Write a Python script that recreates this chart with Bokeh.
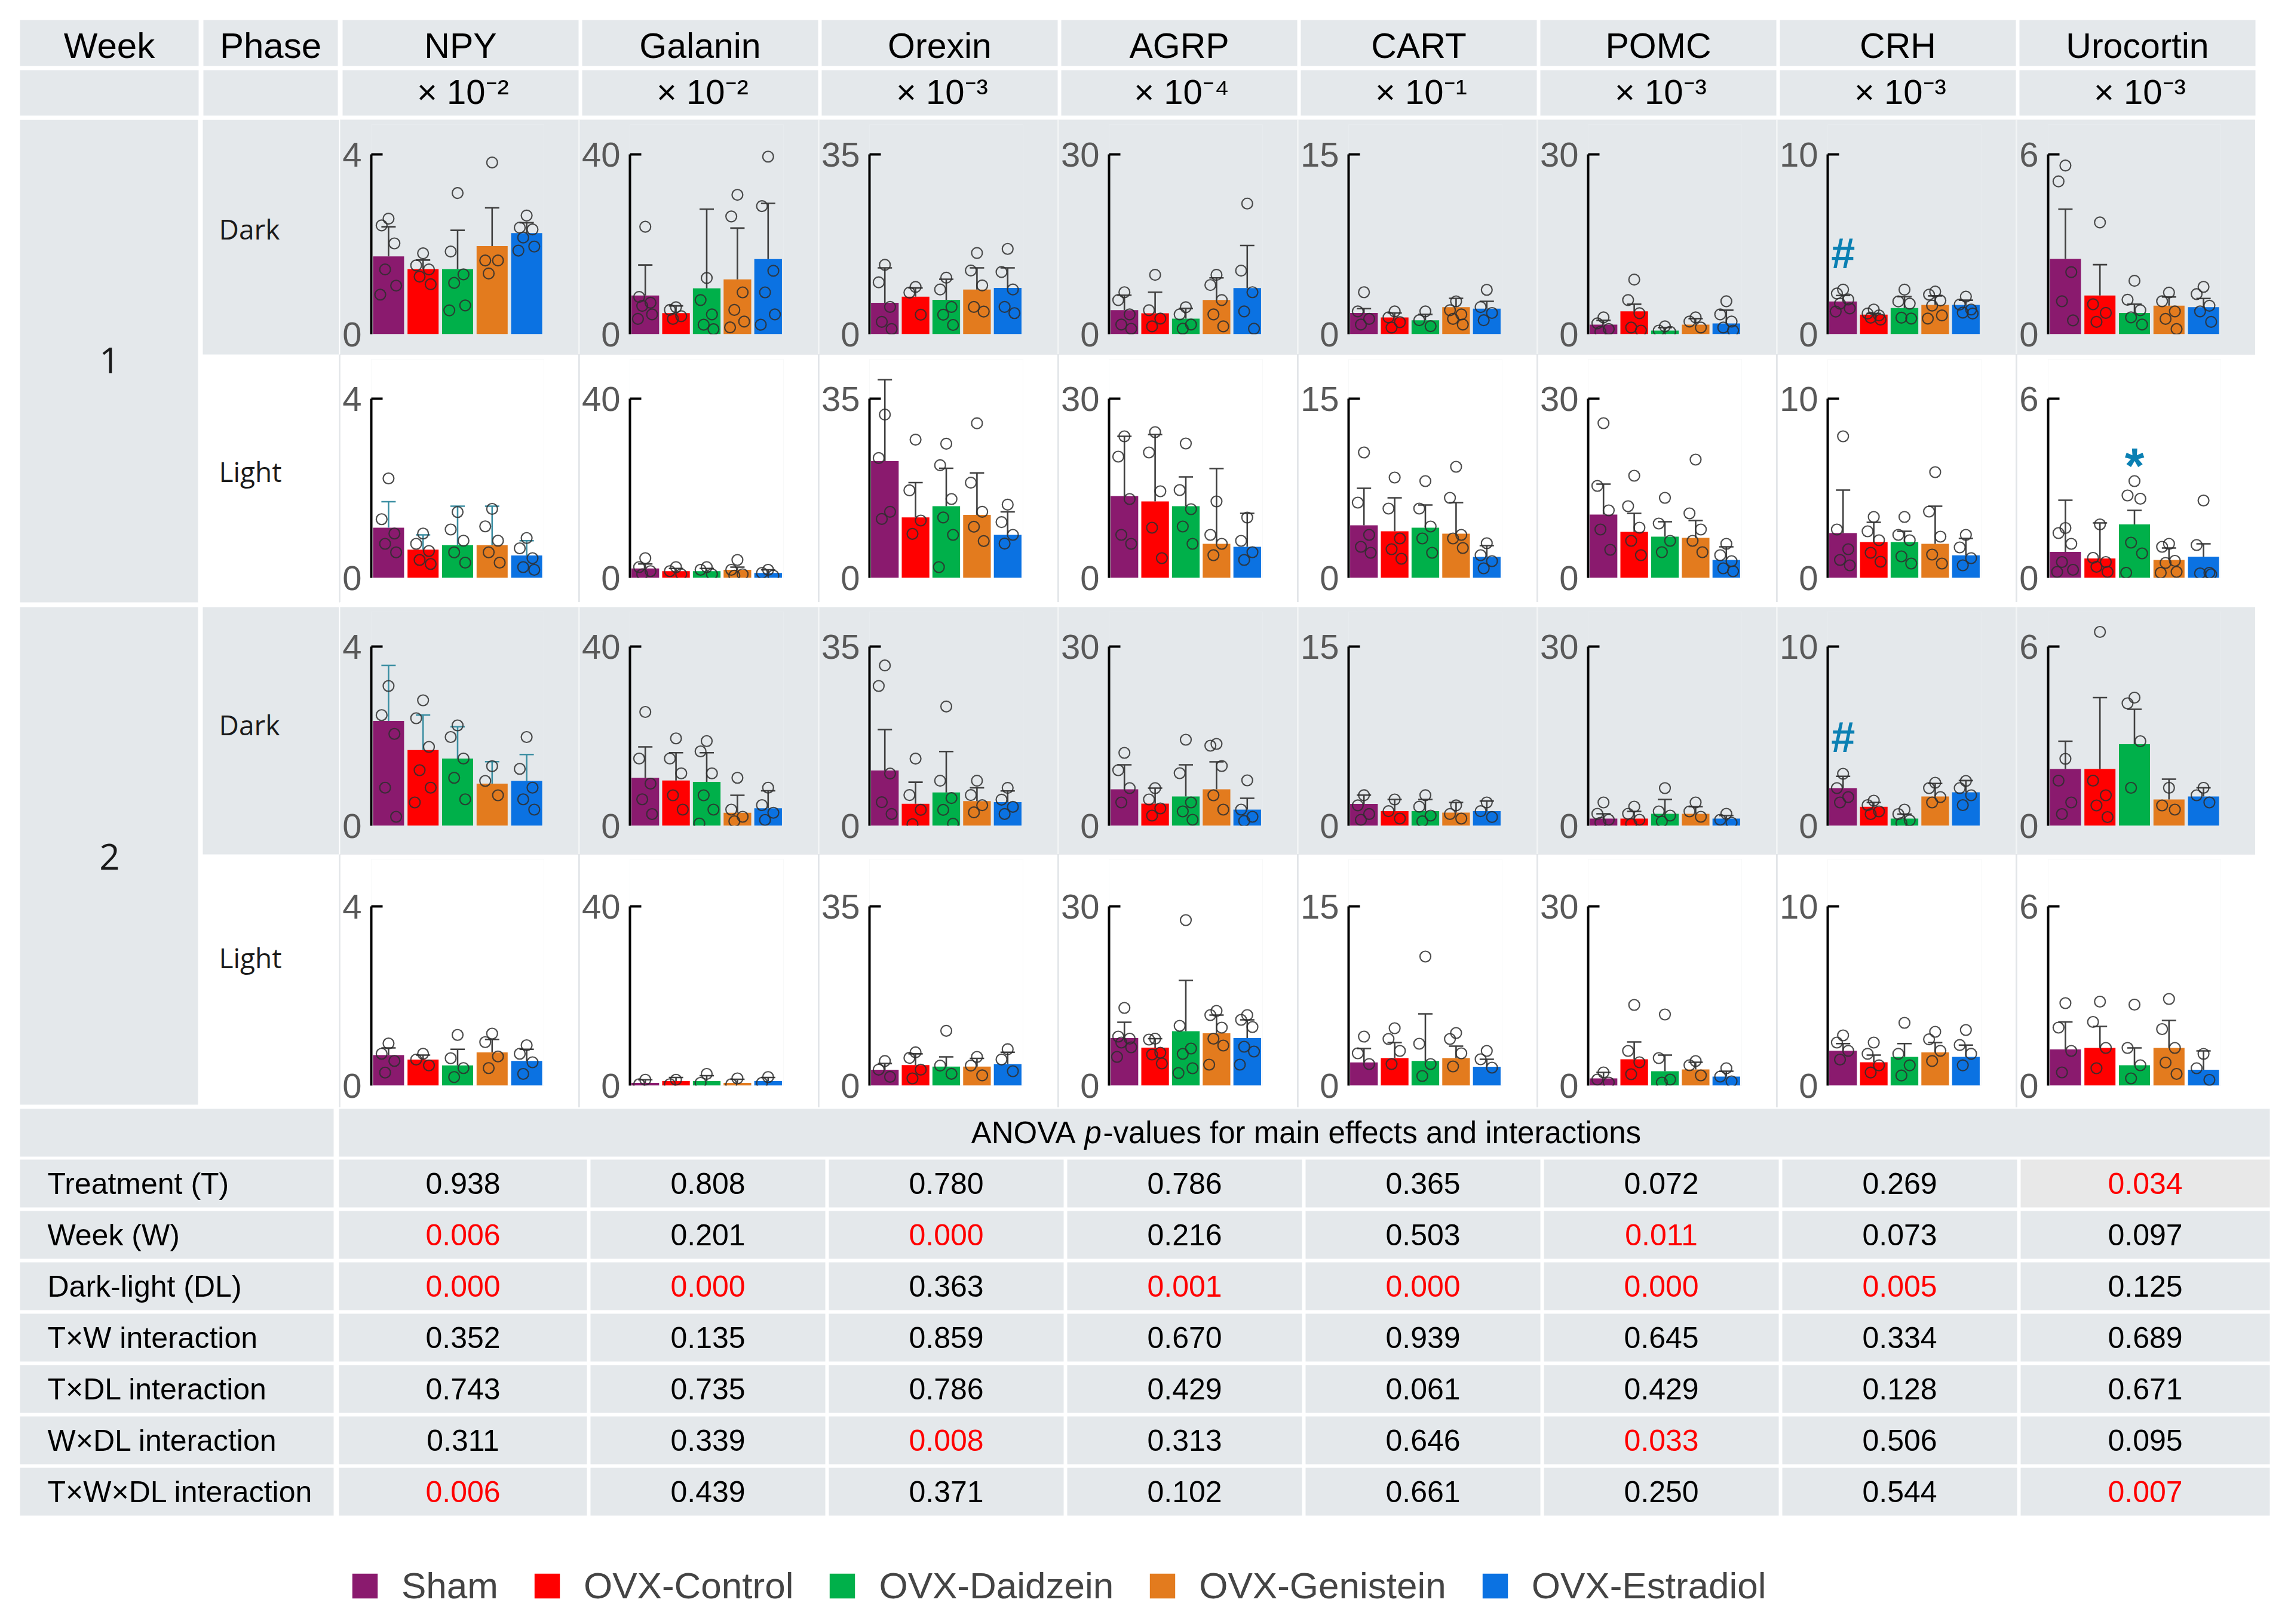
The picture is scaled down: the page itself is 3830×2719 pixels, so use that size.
from bokeh.plotting import figure
from bokeh.models import (Range1d, LinearAxis, FixedTicker, ColumnDataSource,
                          Legend, LegendItem, Spacer, Row, Column)
from bokeh.core.properties import value
from bokeh.embed import file_html
from bokeh.resources import INLINE

# ---------------------------------------------------------------- data
GENES = ["NPY", "Galanin", "Orexin", "AGRP", "CART", "POMC", "CRH", "Urocortin"]
EXPONENTS = [-2, -2, -3, -4, -1, -3, -3, -3]
Y_MAX = [4, 40, 35, 30, 15, 30, 10, 6]
GROUPS = ["Sham", "OVX-Control", "OVX-Daidzein", "OVX-Genistein", "OVX-Estradiol"]
COLORS = ["#8A1A6E", "#FF0000", "#00B04A", "#E37B1E", "#0B72E2"]
PANELS = [("1", "Dark"), ("1", "Light"), ("2", "Dark"), ("2", "Light")]

W1_DARK_MEAN = {
    "NPY": [1.73, 1.45, 1.45, 1.96, 2.25],
    "Galanin": [8.6, 4.7, 10.2, 12.2, 16.7],
    "Orexin": [6.1, 7.3, 6.7, 8.7, 9.0],
    "AGRP": [4.0, 3.5, 2.6, 5.7, 7.7],
    "CART": [1.77, 1.4, 1.16, 2.26, 2.13],
    "POMC": [1.6, 3.8, 0.6, 1.6, 1.8],
    "CRH": [1.82, 1.09, 1.45, 1.63, 1.63],
    "Urocortin": [2.51, 1.29, 0.71, 0.95, 0.9],
}
W1_DARK_UPPER = {
    "NPY": [2.39, 1.65, 2.31, 2.81, 2.48],
    "Galanin": [15.4, 6.3, 27.8, 23.6, 29.1],
    "Orexin": [12.9, 9.0, 10.7, 12.9, 12.9],
    "AGRP": [6.5, 7.0, 4.3, 9.4, 14.8],
    "CART": [2.13, 1.77, 1.65, 2.99, 2.74],
    "POMC": [2.3, 5.0, 1.1, 2.6, 4.0],
    "CRH": [2.15, 1.15, 2.09, 2.13, 1.89],
    "Urocortin": [4.17, 2.32, 1.0, 1.24, 1.19],
}
W1_DARK_POINTS = {
    "NPY": [[2.57, 2.42, 2.02, 1.44, 1.08, 0.88], [1.80, 1.53, 1.44, 1.28, 1.11],
            [3.14, 1.84, 1.33, 1.14, 0.64, 0.53], [3.82, 1.64, 1.64, 1.35],
            [2.64, 2.37, 2.33, 2.15, 1.95, 1.86]],
    "Galanin": [[23.9, 8.3, 7.0, 6.3, 4.4, 3.4], [6.0, 5.4, 4.0, 3.4], [12.5, 7.6, 4.4, 2.1, 1.1],
                [31.0, 26.2, 9.3, 5.4, 2.8, 1.5], [39.5, 28.5, 14.1, 9.3, 4.4, 2.1]],
    "Orexin": [[13.5, 10.1, 5.3, 2.4, 1.0], [9.2, 8.1, 3.8], [11.0, 8.7, 5.3, 3.8, 1.8],
               [15.8, 12.4, 9.5, 5.3, 4.4], [16.6, 12.1, 8.7, 5.3, 4.1]],
    "AGRP": [[7.0, 5.7, 3.3, 1.6, 0.9], [9.9, 4.0, 2.6, 1.3], [4.5, 3.3, 1.6, 0.9],
             [9.9, 8.2, 5.7, 3.3, 1.3], [21.8, 10.6, 7.0, 3.8, 0.9]],
    "CART": [[3.5, 1.9, 1.28, 0.8], [1.9, 1.4, 1.0, 0.55], [1.9, 1.16, 0.67],
             [2.74, 2.0, 1.65, 1.28, 0.8], [3.7, 2.26, 1.77, 1.16]],
    "POMC": [[2.8, 1.8, 0.85, 0.4], [9.1, 5.7, 3.5, 1.1, 0.6], [1.3, 0.6, 0.4],
             [2.8, 2.1, 1.1], [5.5, 3.3, 2.1, 1.1, 0.6]],
    "CRH": [[2.48, 2.26, 1.93, 1.70, 1.43, 1.26], [1.37, 1.15, 1.04, 0.92, 0.81],
            [2.48, 1.82, 1.70, 0.92, 0.87], [2.37, 2.2, 1.87, 1.59, 1.04, 0.87],
            [2.09, 1.65, 1.37, 1.2, 1.15]],
    "Urocortin": [[5.63, 5.1, 2.07, 1.1, 0.46], [3.73, 1.0, 0.71, 0.41], [1.78, 1.15, 0.8, 0.56, 0.32],
                  [1.39, 1.1, 0.76, 0.51, 0.17], [1.58, 1.34, 0.95, 0.76, 0.41]],
}

W1_LIGHT_MEAN = {
    "NPY": [1.12, 0.63, 0.73, 0.73, 0.5],
    "Galanin": [2.1, 1.5, 1.5, 1.8, 1.1],
    "Orexin": [22.8, 11.8, 14.0, 12.3, 8.4],
    "AGRP": [13.7, 12.8, 12.0, 5.7, 5.2],
    "CART": [4.4, 3.9, 4.2, 3.7, 1.76],
    "POMC": [10.6, 7.7, 6.9, 6.7, 3.0],
    "CRH": [2.5, 2.0, 2.0, 1.9, 1.26],
    "Urocortin": [0.87, 0.65, 1.79, 0.6, 0.71],
}
W1_LIGHT_UPPER = {
    "NPY": [1.70, 0.96, 1.6, 1.6, 0.83],
    "Galanin": [3.1, 2.1, 2.1, 2.4, 1.8],
    "Orexin": [38.7, 18.6, 21.4, 20.5, 12.9],
    "AGRP": [23.7, 24.0, 16.9, 18.3, 10.8],
    "CART": [7.5, 6.7, 6.1, 6.3, 2.7],
    "POMC": [15.7, 10.8, 9.4, 9.6, 5.2],
    "CRH": [4.9, 3.1, 2.6, 4.0, 2.2],
    "Urocortin": [2.6, 1.84, 2.26, 1.0, 1.14],
}
W1_LIGHT_POINTS = {
    "NPY": [[2.22, 1.31, 0.99, 0.76, 0.57], [0.99, 0.76, 0.6, 0.4, 0.31], [1.47, 1.08, 0.83, 0.57, 0.34],
            [1.54, 1.15, 0.83, 0.57, 0.34], [0.89, 0.66, 0.44, 0.24, 0.18]],
    "Galanin": [[4.4, 2.4, 1.5, 0.8], [2.4, 1.5, 0.8], [2.4, 1.8, 0.8], [4.0, 1.8, 0.8, 0.5], [1.8, 1.1, 0.5]],
    "Orexin": [[31.9, 23.4, 12.9, 11.5], [27.0, 17.1, 11.2, 8.6], [26.2, 22.0, 15.4, 11.8, 8.4, 2.1],
               [30.2, 18.6, 12.9, 10.0, 7.2], [14.3, 10.9, 8.4, 6.7]],
    "AGRP": [[23.7, 20.3, 13.2, 7.2, 5.7], [24.4, 21.0, 14.5, 8.4, 3.3], [22.5, 14.7, 11.5, 8.6, 5.7],
             [12.8, 7.2, 5.7, 3.8], [10.1, 6.2, 4.3, 3.0]],
    "CART": [[10.5, 6.3, 3.6, 2.6, 2.1], [8.4, 5.8, 3.3, 2.4, 1.6], [8.1, 5.8, 4.3, 3.3, 2.1],
             [9.3, 6.7, 3.6, 3.3, 2.5], [2.9, 1.9, 1.4, 0.8]],
    "POMC": [[25.9, 15.4, 11.3, 8.1, 4.7], [17.1, 12.0, 8.4, 6.2, 3.8], [13.4, 9.1, 6.2, 4.3],
             [19.8, 10.8, 8.1, 6.2, 4.3], [5.7, 3.8, 2.8, 1.6, 1.1]],
    "CRH": [[7.9, 2.7, 1.6, 1.0, 0.7], [3.4, 2.6, 2.1, 1.4, 0.9], [3.4, 2.4, 2.1, 1.2, 0.8],
            [5.9, 3.7, 2.3, 1.3, 0.8], [2.4, 1.7, 1.1, 0.7]],
    "Urocortin": [[1.67, 1.50, 1.14, 0.53, 0.27, 0.2], [1.79, 0.67, 0.53, 0.37, 0.2],
                  [3.24, 2.76, 2.65, 1.18, 0.82, 0.17], [1.14, 1.04, 0.57, 0.5, 0.2, 0.17],
                  [2.59, 1.1, 0.17, 0.15, 0.12]],
}

W2_DARK_MEAN = {
    "NPY": [2.34, 1.69, 1.5, 0.94, 1.0],
    "Galanin": [10.7, 10.1, 9.8, 2.9, 3.9],
    "Orexin": [10.8, 4.3, 6.5, 4.8, 4.6],
    "AGRP": [6.1, 3.7, 4.9, 6.1, 2.7],
    "CART": [1.83, 1.22, 1.22, 1.1, 1.22],
    "POMC": [1.2, 1.2, 2.0, 2.0, 1.2],
    "CRH": [2.1, 1.06, 0.4, 1.63, 1.87],
    "Urocortin": [1.9, 1.9, 2.73, 0.88, 0.98],
}
W2_DARK_UPPER = {
    "NPY": [3.58, 2.47, 2.21, 1.43, 1.59],
    "Galanin": [17.6, 16.3, 16.3, 6.8, 7.8],
    "Orexin": [18.8, 8.5, 14.5, 7.4, 6.8],
    "AGRP": [10.2, 6.3, 10.2, 10.7, 4.6],
    "CART": [2.56, 2.2, 2.2, 1.95, 2.07],
    "POMC": [2.0, 2.4, 4.4, 3.2, 1.7],
    "CRH": [2.76, 1.3, 0.65, 2.36, 2.52],
    "Urocortin": [2.83, 4.29, 3.9, 1.56, 1.27],
}
W2_DARK_POINTS = {
    "NPY": [[3.12, 2.47, 2.05, 0.85, 0.2], [2.8, 2.4, 1.76, 1.24, 0.85, 0.52], [2.24, 1.98, 1.5, 1.07, 0.59],
            [1.33, 1.0, 0.68], [1.98, 1.27, 0.85, 0.59, 0.36]],
    "Galanin": [[25.4, 15.0, 9.4, 5.9, 2.6], [19.5, 15.0, 11.7, 6.8, 3.6], [18.9, 16.6, 11.7, 6.8, 3.6, 0.5],
                [10.7, 3.6, 2.0, 1.0], [8.5, 4.6, 2.9, 1.3]],
    "Orexin": [[31.3, 27.3, 10.2, 4.6, 2.3], [13.1, 6.0, 3.1, 0.3], [23.3, 8.8, 5.4, 3.1, 0.4],
               [8.8, 6.0, 4.0, 2.6], [7.4, 5.1, 3.7, 2.3]],
    "AGRP": [[12.2, 9.3, 6.3, 3.9], [6.3, 4.4, 2.9, 1.7], [14.4, 8.8, 3.9, 2.4, 1.0],
             [13.7, 13.4, 10.0, 5.1, 2.7], [7.6, 2.7, 1.5, 0.8]],
    "CART": [[2.56, 1.71, 0.98, 0.49], [2.2, 1.22, 0.6], [2.56, 1.59, 0.85, 0.37], [1.71, 0.98, 0.6],
             [1.95, 1.22, 0.73]],
    "POMC": [[3.9, 2.0, 1.0, 0.5], [3.2, 2.0, 1.0, 0.3], [6.3, 2.4, 1.7, 0.7], [3.9, 2.4, 1.5], [2.0, 1.0, 0.5]],
    "CRH": [[2.9, 2.1, 1.6, 1.3], [1.4, 1.15, 0.8, 0.65], [0.9, 0.65, 0.3, 0.15], [2.4, 2.1, 1.6, 1.3],
            [2.5, 2.1, 1.7, 1.15]],
    "Urocortin": [[2.24, 1.51, 0.78, 0.39], [6.49, 1.51, 1.02, 0.68, 0.29], [4.29, 4.1, 2.83, 1.27],
                  [1.27, 0.68, 0.54], [1.27, 1.02, 0.78]],
}

W2_LIGHT_MEAN = {
    "NPY": [0.68, 0.58, 0.45, 0.74, 0.55],
    "Galanin": [0.6, 1.0, 1.0, 0.6, 1.0],
    "Orexin": [3.1, 4.0, 3.7, 3.7, 4.2],
    "AGRP": [7.95, 6.35, 9.09, 8.75, 7.95],
    "CART": [1.94, 2.3, 2.06, 2.3, 1.57],
    "POMC": [1.2, 4.4, 2.4, 2.7, 1.5],
    "CRH": [1.94, 1.3, 1.6, 1.85, 1.6],
    "Urocortin": [1.21, 1.26, 0.68, 1.26, 0.53],
}
W2_LIGHT_UPPER = {
    "NPY": [0.84, 0.68, 0.81, 1.03, 0.81],
    "Galanin": [1.3, 1.8, 2.2, 1.4, 1.8],
    "Orexin": [4.3, 6.2, 5.6, 5.3, 6.5],
    "AGRP": [10.6, 7.85, 17.6, 11.8, 11.0],
    "CART": [3.1, 3.6, 6.0, 3.3, 2.2],
    "POMC": [2.2, 7.3, 5.1, 3.9, 2.4],
    "CRH": [2.34, 1.7, 2.34, 2.4, 2.26],
    "Urocortin": [2.13, 1.98, 1.26, 2.18, 1.16],
}
W2_LIGHT_POINTS = {
    "NPY": [[0.94, 0.71, 0.55, 0.29], [0.71, 0.58, 0.45], [1.13, 0.61, 0.39, 0.19], [1.16, 0.97, 0.65, 0.39],
            [0.9, 0.71, 0.52, 0.26]],
    "Galanin": [[1.3, 0.3], [1.3, 0.3], [2.6, 0.6], [1.6, 0.3], [1.9, 0.6]],
    "Orexin": [[4.8, 3.1, 1.7], [6.5, 5.4, 3.1, 1.4], [10.7, 3.9, 2.3], [5.6, 3.9, 2.0], [7.1, 5.1, 2.8]],
    "AGRP": [[13.0, 8.2, 7.85, 7.2, 6.4, 4.8], [7.85, 7.7, 5.5, 5.2, 3.7], [27.7, 10.0, 6.2, 5.3, 2.9, 2.1],
             [12.5, 11.8, 9.7, 7.85, 6.7, 3.5], [11.8, 11.0, 9.8, 6.5, 5.7, 3.5]],
    "CART": [[4.1, 2.7, 1.8], [4.8, 3.9, 2.9, 1.8], [10.8, 3.5, 1.8, 0.8], [4.4, 3.9, 2.7, 1.6], [2.9, 2.2, 1.5]],
    "POMC": [[2.2, 1.0, 0.5], [13.5, 5.8, 3.9, 1.9], [11.9, 4.6, 1.0, 0.5], [4.1, 3.4, 1.7], [2.9, 1.5, 0.7]],
    "CRH": [[2.8, 2.4, 1.94, 1.45], [2.4, 1.77, 1.13, 0.73], [3.5, 1.77, 1.13, 0.56], [3.0, 2.58, 1.94, 1.37],
            [3.1, 2.26, 1.77, 1.13]],
    "Urocortin": [[2.76, 1.94, 1.16, 0.44], [2.81, 2.13, 1.26, 0.58], [2.71, 1.26, 0.68, 0.24],
                  [2.9, 1.89, 1.26, 0.77, 0.39], [1.06, 0.58, 0.19]],
}

# significance marks: (week, phase, gene, group index, symbol, value)
MARKS = [
    ("1", "Dark", "CRH", 0, "#", 4.5),
    ("2", "Dark", "CRH", 0, "#", 4.95),
    ("1", "Light", "Urocortin", 2, "*", 4.2),
]

ANOVA_TERMS = ["Treatment (T)", "Week (W)", "Dark-light (DL)", "T\u00d7W interaction",
               "T\u00d7DL interaction", "W\u00d7DL interaction", "T\u00d7W\u00d7DL interaction"]
P_NPY = ["0.938", "0.006", "0.000", "0.352", "0.743", "0.311", "0.006"]
P_GALANIN = ["0.808", "0.201", "0.000", "0.135", "0.735", "0.339", "0.439"]
P_OREXIN = ["0.780", "0.000", "0.363", "0.859", "0.786", "0.008", "0.371"]
P_AGRP = ["0.786", "0.216", "0.001", "0.670", "0.429", "0.313", "0.102"]
P_CART = ["0.365", "0.503", "0.000", "0.939", "0.061", "0.646", "0.661"]
P_POMC = ["0.072", "0.011", "0.000", "0.645", "0.429", "0.033", "0.250"]
P_CRH = ["0.269", "0.073", "0.005", "0.334", "0.128", "0.506", "0.544"]
P_UROCORTIN = ["0.034", "0.097", "0.125", "0.689", "0.671", "0.095", "0.007"]

# ---------------------------------------------------------------- style / layout
MEANS = [W1_DARK_MEAN, W1_LIGHT_MEAN, W2_DARK_MEAN, W2_LIGHT_MEAN]
UPPERS = [W1_DARK_UPPER, W1_LIGHT_UPPER, W2_DARK_UPPER, W2_LIGHT_UPPER]
POINTS = [W1_DARK_POINTS, W1_LIGHT_POINTS, W2_DARK_POINTS, W2_LIGHT_POINTS]
P_TABLE = [P_NPY, P_GALANIN, P_OREXIN, P_AGRP, P_CART, P_POMC, P_CRH, P_UROCORTIN]

FONT = "Liberation Sans"
HUMANIST = "Open Sans"
GRAY = "#E4E8EB"
ERR_COLOR = "#404040"
ERR_TEAL = "#3B8EA2"
TEAL_ERR_CELLS = [("1", "Light", "NPY"), ("2", "Dark", "NPY")]
PT_COLOR = "#2E2E2E"
MARK_COLOR = "#0B80B3"
JITTER = [0.0, -0.2, 0.17, -0.1, 0.22, -0.24, 0.08]
SUP = str.maketrans("-0123456789", "\u207b\u2070\u00b9\u00b2\u00b3\u2074\u2075\u2076\u2077\u2078\u2079")

PAGE_W, PAGE_H = 3830, 2719
# (cell top, cell bottom, axis top, axis zero) in page pixels for each panel row
PANEL_GEOM = [(200, 593, 258, 559), (593, 1008, 667, 967),
              (1016, 1430, 1082, 1382), (1430, 1854, 1517, 1817)]
CELL_W = 399
CELL_GAP = 2


def page_fig(x0, x1, y0, y1):
    p = figure(width=x1 - x0, height=y1 - y0, x_range=Range1d(x0, x1), y_range=Range1d(y1, y0),
               x_axis_type=None, y_axis_type=None, toolbar_location=None, output_backend="svg",
               outline_line_color=None, background_fill_color="white", border_fill_color="white",
               min_border=0, min_border_left=0, min_border_right=0, min_border_top=0, min_border_bottom=0)
    return p


def txt(p, x, y, s, size, color="black", align="center", baseline="middle", font=FONT,
        style="normal"):
    p.text(x=x, y=y, text=s, text_font=value(font), text_font_size=size,
           text_color=color, text_align=align, text_baseline=baseline, text_font_style=style)


# ---------------------------------------------------------------- header
top = page_fig(0, PAGE_W, 0, 200)
hdr_left = [33, 340] + [573 + 401 * k for k in range(8)]
hdr_right = [332, 565] + [573 + 401 * k + 395 for k in range(8)]
for (t, b) in [(33, 110), (117, 193)]:
    top.quad(left=hdr_left, right=hdr_right, top=[t] * 10, bottom=[b] * 10,
             fill_color=GRAY, line_color=None)
centers = [(l + r) / 2 for l, r in zip(hdr_left, hdr_right)]
txt(top, centers[:2], [76, 76], ["Week", "Phase"], "60px")
txt(top, centers[2:], [76] * 8, GENES, "59px")
txt(top, [c + 4 for c in centers[2:]], [153] * 8,
    ["\u00d7 10" + str(e).translate(SUP) for e in EXPONENTS], "58px")

# ---------------------------------------------------------------- left columns (week / phase)
body_top, body_bottom = PANEL_GEOM[0][0], PANEL_GEOM[-1][1]
left = page_fig(0, 569, body_top, body_bottom)
left.quad(left=[33, 33], right=[331, 331], top=[200, 1016], bottom=[1008, 1849],
          fill_color=GRAY, line_color=None)
dark_rows = [g for g, (w, ph) in zip(PANEL_GEOM, PANELS) if ph == "Dark"]
light_rows = [g for g, (w, ph) in zip(PANEL_GEOM, PANELS) if ph == "Light"]
left.quad(left=[339] * len(dark_rows), right=[567] * len(dark_rows),
          top=[g[0] for g in dark_rows], bottom=[g[1] for g in dark_rows],
          fill_color=GRAY, line_color=None)
left.quad(left=[567] * len(light_rows), right=[569] * len(light_rows),
          top=[g[0] for g in light_rows], bottom=[g[1] for g in light_rows],
          fill_color="#E2E5E8", line_color=None)
txt(left, [183, 183], [603, 1434], [w for w in dict.fromkeys(w for w, _ in PANELS)], "60px",
    font=HUMANIST, color="#1a1a1a")
txt(left, [366, 366, 366, 366], [382, 788, 1212, 1602], [ph for _, ph in PANELS], "46px",
    align="left", font=HUMANIST, color="#1a1a1a")


# ---------------------------------------------------------------- chart cells
def make_chart(pi, gi):
    week, phase = PANELS[pi]
    gene = GENES[gi]
    ymax = Y_MAX[gi]
    ct, cb, at, az = PANEL_GEOM[pi]
    bg = GRAY if phase == "Dark" else "white"
    top_pad = 8
    ppu = (az - at) / ymax
    y_end = (az - ct - top_pad) / ppu
    p = figure(width=CELL_W, height=cb - ct, x_range=Range1d(-0.5, 4.5), y_range=Range1d(0, y_end),
               x_axis_type=None, y_axis_type=None, toolbar_location=None, output_backend="svg",
               background_fill_color=bg, border_fill_color=bg, outline_line_color=None,
               min_border_left=20 + 32 * len(str(ymax)), min_border_right=58,
               min_border_top=top_pad, min_border_bottom=cb - az)
    ax = LinearAxis(ticker=FixedTicker(ticks=[0, ymax], minor_ticks=[ymax]), bounds=(0, ymax),
                    axis_line_color="black", axis_line_width=4,
                    major_tick_line_color=None, major_tick_in=0, major_tick_out=0,
                    minor_tick_line_color="black", minor_tick_line_width=4,
                    minor_tick_in=19, minor_tick_out=0,
                    major_label_standoff=16, major_label_text_font=FONT,
                    major_label_text_font_size="58px", major_label_text_color="#595959")
    p.add_layout(ax, "left")

    mean = MEANS[pi][gene]
    upper = UPPERS[pi][gene]
    pts = POINTS[pi][gene]
    err = ERR_TEAL if (week, phase, gene) in TEAL_ERR_CELLS else ERR_COLOR
    xs = list(range(len(GROUPS)))
    bars = ColumnDataSource(dict(x=xs, top=mean, upper=upper, color=COLORS))
    p.vbar(x="x", top="top", bottom=0, width=0.9, fill_color="color", line_color=None, source=bars)
    p.segment(x0="x", y0="top", x1="x", y1="upper", line_color=err, line_width=2.6, source=bars)
    p.scatter(x="x", y="upper", marker="dash", size=24, line_color=err, line_width=2.6,
              source=bars)
    px, py = [], []
    for i, grp in enumerate(pts):
        for j, v in enumerate(grp):
            px.append(i + JITTER[j % len(JITTER)])
            py.append(v)
    p.scatter(x=px, y=py, marker="circle", size=18, fill_color=None, line_color=PT_COLOR,
              line_alpha=0.85, line_width=2.2)
    for (w, ph, g, k, sym, yv) in MARKS:
        if w == week and ph == phase and g == gene:
            p.text(x=[k], y=[yv], text=[sym], text_font=value(FONT), text_font_style="bold",
                   text_font_size="72px" if sym == "#" else "84px", text_color=MARK_COLOR,
                   text_align="center", text_baseline="middle",
                   y_offset=0 if sym == "#" else 22)
    return p


chart_rows = []
for pi, (week, phase) in enumerate(PANELS):
    cells = [make_chart(pi, gi) for gi in range(len(GENES))]
    gap_color = "#F2F4F5" if phase == "Dark" else "#E2E5E8"
    r = Row(children=cells, spacing=CELL_GAP, styles={"background-color": gap_color})
    chart_rows.append(r)
    if pi == 1:
        chart_rows.append(Spacer(width=8 * CELL_W + 7 * CELL_GAP,
                                 height=PANEL_GEOM[2][0] - PANEL_GEOM[1][1]))
charts = Column(children=chart_rows, spacing=0)
body = Row(children=[left, charts], spacing=0)

# ---------------------------------------------------------------- ANOVA table + legend
bot = page_fig(0, PAGE_W, body_bottom, PAGE_H)
row_tops = [1941 + 86 * i for i in range(len(ANOVA_TERMS))]
col_left = [567] + [988 + 399 * (k - 1) for k in range(1, 8)]
col_right = [982] + [988 + 399 * (k - 1) + 393 for k in range(1, 7)] + [3799]
bot.quad(left=[33, 567], right=[558, 3799], top=[1856, 1856], bottom=[1936, 1936],
         fill_color=GRAY, line_color=None)
ql, qr, qt, qb, qc = [], [], [], [], []
for i, t in enumerate(row_tops):
    ql.append(33); qr.append(558); qt.append(t); qb.append(t + 80); qc.append(GRAY)
    for k in range(len(GENES)):
        ql.append(col_left[k]); qr.append(col_right[k]); qt.append(t); qb.append(t + 80)
        qc.append("#E8E8E8" if (i == 0 and k == len(GENES) - 1) else GRAY)
bot.quad(left=ql, right=qr, top=qt, bottom=qb, fill_color=qc, line_color=None)

txt(bot, [1800], [1896], ["ANOVA"], "51px", align="right")
txt(bot, [1815], [1896], ["p"], "51px", align="left", style="italic")
txt(bot, [1846], [1896], ["-values for main effects and interactions"], "51px", align="left")
txt(bot, [79] * len(ANOVA_TERMS), [t + 40 for t in row_tops], ANOVA_TERMS, "50px", align="left")
vx, vy, vs, vc = [], [], [], []
for k, col in enumerate(P_TABLE):
    for i, s in enumerate(col):
        vx.append((col_left[k] + col_right[k]) / 2)
        vy.append(row_tops[i] + 40)
        vs.append(s)
        vc.append("#FF0000" if float(s) < 0.05 else "black")
txt(bot, vx, vy, vs, "50px", color=vc)

items = []
for g, c in zip(GROUPS, COLORS):
    # zero-area swatch renderer: only feeds the legend glyph
    r = bot.quad(left=[0], right=[0], top=[PAGE_H], bottom=[PAGE_H], fill_color=c, line_color=None)
    items.append(LegendItem(label=g, renderers=[r]))
legend = Legend(items=items, orientation="horizontal", location=(584, 29),
                glyph_width=53, glyph_height=52, label_standoff=35, spacing=55,
                label_text_font=FONT, label_text_font_size="62px", label_height=52,
                padding=0, margin=0, border_line_color=None, background_fill_alpha=0)
bot.add_layout(legend, "center")

page = Column(children=[top, body, bot], spacing=0)
open("out.html", "w").write(file_html(page, INLINE))
